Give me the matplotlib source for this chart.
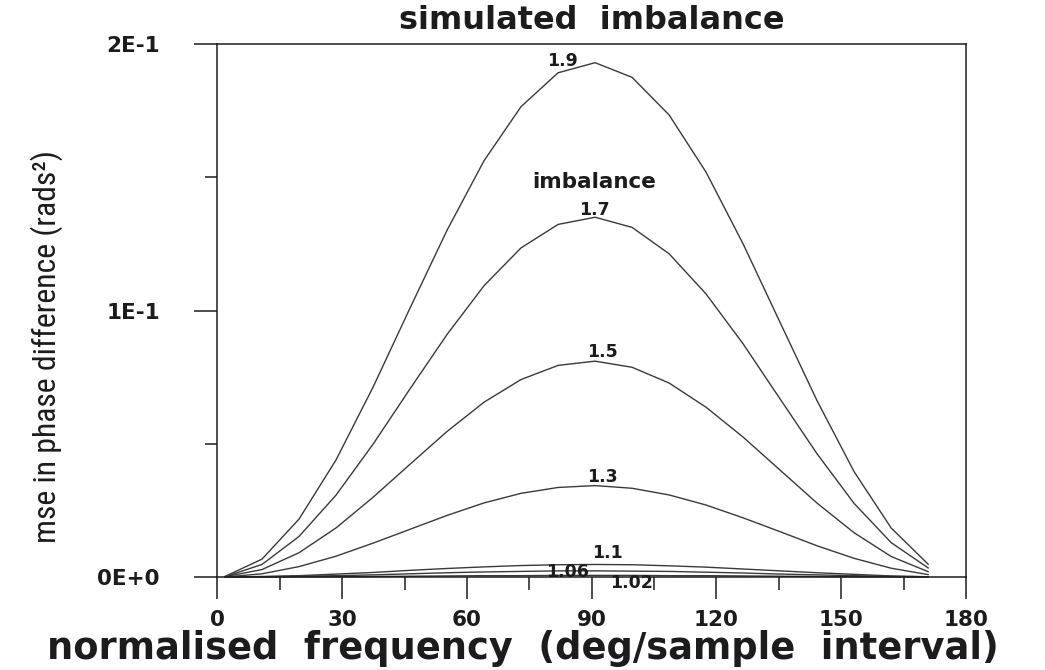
import matplotlib
matplotlib.use("Agg")
import matplotlib.pyplot as plt
from matplotlib import font_manager as fm

# normalised frequency of each computed point (deg/sample interval)
freq = [1.8, 10.7, 19.6, 28.5, 37.4, 46.3, 55.2, 64.1, 73.0, 81.9,
        90.8, 99.7, 108.6, 117.5, 126.4, 135.3, 144.2, 153.1, 162.0, 170.9]

# imbalance values of the simulated curves
imbalance = ["1.9", "1.7", "1.5", "1.3", "1.1", "1.06", "1.02"]

# mse in phase difference (rads^2) for each imbalance
mse_1_90 = [0.0002, 0.0067, 0.0217, 0.0439, 0.0712, 0.1009, 0.1301, 0.1562, 0.1765, 0.1892,
            0.1930, 0.1875, 0.1734, 0.1519, 0.1250, 0.0955, 0.0661, 0.0395, 0.0184, 0.0048]
mse_1_70 = [0.0001, 0.0047, 0.0152, 0.0307, 0.0498, 0.0706, 0.0910, 0.1093, 0.1235, 0.1323,
            0.1350, 0.1312, 0.1213, 0.1062, 0.0875, 0.0668, 0.0462, 0.0276, 0.0129, 0.0034]
mse_1_50 = [0.0001, 0.0028, 0.0091, 0.0184, 0.0299, 0.0423, 0.0546, 0.0656, 0.0741, 0.0794,
            0.0810, 0.0787, 0.0728, 0.0637, 0.0525, 0.0401, 0.0277, 0.0166, 0.0077, 0.0020]
mse_1_30 = [0.0000, 0.0012, 0.0039, 0.0078, 0.0127, 0.0179, 0.0231, 0.0278, 0.0314, 0.0336,
            0.0343, 0.0333, 0.0308, 0.0270, 0.0222, 0.0170, 0.0117, 0.0070, 0.0033, 0.0009]
mse_1_10 = [0.0000, 0.0002, 0.0005, 0.0011, 0.0017, 0.0025, 0.0032, 0.0038, 0.0043, 0.0046,
            0.0047, 0.0046, 0.0042, 0.0037, 0.0030, 0.0023, 0.0016, 0.0010, 0.0004, 0.0001]
mse_1_06 = [0.0000, 0.0001, 0.0003, 0.0005, 0.0008, 0.0012, 0.0016, 0.0019, 0.0021, 0.0023,
            0.0023, 0.0022, 0.0021, 0.0018, 0.0015, 0.0011, 0.0008, 0.0005, 0.0002, 0.0001]
mse_1_02 = [0.0000, 0.0000, 0.0001, 0.0001, 0.0002, 0.0003, 0.0004, 0.0005, 0.0005, 0.0006,
            0.0006, 0.0006, 0.0005, 0.0005, 0.0004, 0.0003, 0.0002, 0.0001, 0.0001, 0.0000]

x_ticks = [0, 30, 60, 90, 120, 150, 180]
x_minor = [15, 45, 75, 105, 135, 165]
y_ticks = [0.0, 0.1, 0.2]
y_tick_labels = ["0E+0", "1E-1", "2E-1"]
y_minor = [0.05, 0.15]

series = [mse_1_90, mse_1_70, mse_1_50, mse_1_30, mse_1_10, mse_1_06, mse_1_02]

# where each curve's imbalance label sits (data coordinates, text centre)
label_pos = [(83.0, 0.1936), (90.7, 0.1377), (92.6, 0.0844), (92.6, 0.0375),
             (93.8, 0.0090), (84.2, 0.0019), (99.6, -0.0023)]


def condensed_font():
    prefs = ["Liberation Sans Narrow", "Roboto Condensed", "Open Sans Condensed",
             "Noto Sans Condensed", "DejaVu Sans Condensed"]
    entries = fm.fontManager.ttflist
    for name in prefs:
        for f in entries:
            if f.name == name and f.style == "normal" and f.weight in (400, "normal", "regular", "book"):
                return fm.FontProperties(fname=f.fname)
    for f in entries:
        st = f.stretch
        cond = (isinstance(st, str) and "condensed" in st) or (isinstance(st, int) and st < 500)
        if cond and f.style == "normal" and "Mono" not in f.name and f.weight in (400, "normal", "regular", "book"):
            return fm.FontProperties(fname=f.fname)
    return fm.FontProperties(family="DejaVu Sans")


ink = "#1c1c1c"
line_c = "#3a3a3a"
bold = dict(family="DejaVu Sans", weight="bold", color=ink)

fig = plt.figure(figsize=(10.45, 6.70), dpi=100)
ax = fig.add_axes([0.2081, 0.1388, 0.7163, 0.7955])

for ys in series:
    ax.plot(freq, ys, color=line_c, lw=1.0, clip_on=False)

for txt, (lx, ly) in zip(imbalance, label_pos):
    ax.text(lx, ly, txt, ha="center", va="center", fontsize=12.5, **bold)
ax.text(90.7, 0.1482, "imbalance", ha="center", va="center", fontsize=15.5, **bold)

ax.set_xlim(0, 180)
ax.set_ylim(0, 0.2)
ax.set_xticks(x_ticks)
ax.set_xticks(x_minor, minor=True)
ax.set_yticks(y_ticks)
ax.set_yticklabels(y_tick_labels)
ax.set_yticks(y_minor, minor=True)

for s in ax.spines.values():
    s.set_linewidth(1.1)
    s.set_color(ink)

ax.tick_params(axis="y", which="major", direction="out", length=16.5, width=1.1,
               pad=25, colors=ink)
ax.tick_params(axis="y", which="minor", direction="out", length=8.5, width=1.1, colors=ink)
ax.tick_params(axis="x", which="major", direction="out", length=16, width=1.1,
               pad=8, colors=ink)
ax.tick_params(axis="x", which="minor", direction="out", length=9, width=1.1, colors=ink)
for lab in ax.get_xticklabels() + ax.get_yticklabels():
    lab.set_fontfamily("DejaVu Sans")
    lab.set_fontweight("bold")
    lab.set_fontsize(15.5)

fig.text(0.566, 0.969, "simulated  imbalance", ha="center", va="center", fontsize=23, **bold)
fig.text(0.500, 0.032, "normalised  frequency  (deg/sample  interval)",
         ha="center", va="center", fontsize=26.5, **bold)

cfp = condensed_font()
cfp.set_size(24)
ylab = fig.text(0.045, 0.482, "mse in phase difference (rads²)", rotation=90,
                ha="center", va="center", fontproperties=cfp, color=ink)
fig.canvas.draw()
h = ylab.get_window_extent().height
cfp.set_size(24 * 395.0 / h)
ylab.set_fontproperties(cfp)

fig.savefig("out.png", dpi=100, facecolor="white")
